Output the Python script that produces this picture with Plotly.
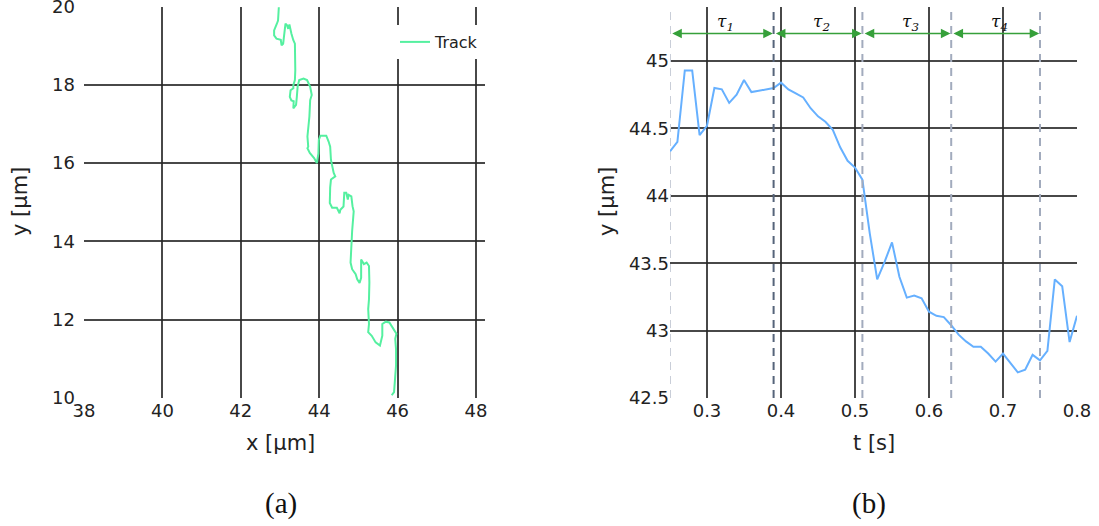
import plotly.graph_objects as go

# ---------------- data ----------------
track_x = [42.97, 42.95, 42.92, 42.85, 42.85, 42.91, 43.02, 43.04, 43.08, 43.14, 43.18, 43.21, 43.24,
           43.27, 43.29, 43.34, 43.38, 43.39, 43.38, 43.34, 43.34, 43.27, 43.25, 43.29, 43.35, 43.34,
           43.41, 43.43, 43.45, 43.49, 43.60, 43.69, 43.77, 43.81, 43.77, 43.75, 43.70, 43.72, 43.70,
           43.76, 43.87, 43.94, 43.98, 43.99, 44.03, 44.11, 44.18, 44.24, 44.28, 44.30, 44.37, 44.41,
           44.30, 44.28, 44.27, 44.33, 44.45, 44.52, 44.54, 44.62, 44.64, 44.69, 44.73, 44.75, 44.82,
           44.85, 44.88, 44.84, 44.82, 44.80, 44.84, 44.93, 44.97, 45.03, 45.07, 45.07, 45.14, 45.21,
           45.27, 45.28, 45.27, 45.25, 45.27, 45.25, 45.34, 45.44, 45.55, 45.61, 45.61, 45.70, 45.79,
           45.92, 45.97, 45.94, 45.96, 45.96, 45.94, 45.91, 45.85]
track_y = [19.98, 19.64, 19.56, 19.39, 19.26, 19.18, 19.15, 19.01, 19.05, 19.56, 19.52, 19.43, 19.54,
           19.35, 19.31, 19.14, 19.05, 18.37, 18.12, 17.99, 17.91, 17.86, 17.69, 17.60, 17.58, 17.40,
           17.49, 17.70, 17.96, 18.12, 18.16, 18.12, 17.95, 17.74, 17.61, 17.19, 16.68, 16.42, 16.38,
           16.26, 16.13, 16.00, 16.25, 16.59, 16.70, 16.70, 16.70, 16.55, 16.42, 16.08, 15.75, 15.66,
           15.58, 15.38, 14.98, 14.86, 14.86, 14.72, 14.81, 14.89, 15.24, 15.24, 15.07, 15.19, 15.15,
           14.90, 14.77, 14.26, 13.97, 13.46, 13.29, 13.16, 13.03, 12.94, 13.07, 13.54, 13.42, 13.46,
           13.37, 12.95, 12.52, 12.27, 11.89, 11.68, 11.59, 11.42, 11.34, 11.59, 11.89, 11.95, 11.93,
           11.72, 11.64, 11.51, 11.25, 10.83, 10.41, 10.15, 10.07]

t_vals = [0.25, 0.26, 0.27, 0.28, 0.29, 0.30, 0.31, 0.32, 0.33, 0.34, 0.35, 0.36, 0.37, 0.38, 0.39,
          0.40, 0.41, 0.42, 0.43, 0.44, 0.45, 0.46, 0.47, 0.48, 0.49, 0.50, 0.51, 0.52, 0.53, 0.54,
          0.55, 0.56, 0.57, 0.58, 0.59, 0.60, 0.61, 0.62, 0.63, 0.64, 0.65, 0.66, 0.67, 0.68, 0.69,
          0.70, 0.71, 0.72, 0.73, 0.74, 0.75, 0.76, 0.77, 0.78, 0.79, 0.80]
y_vals = [44.33, 44.40, 44.93, 44.93, 44.45, 44.52, 44.80, 44.79, 44.69, 44.75, 44.86, 44.77, 44.78,
          44.79, 44.80, 44.84, 44.79, 44.76, 44.73, 44.65, 44.59, 44.55, 44.49, 44.36, 44.26, 44.21,
          44.12, 43.72, 43.38, 43.51, 43.655, 43.40, 43.245, 43.26, 43.24, 43.14, 43.11, 43.10, 43.04,
          42.97, 42.92, 42.88, 42.88, 42.83, 42.77, 42.83, 42.76, 42.69, 42.71, 42.82, 42.78, 42.85,
          43.38, 43.33, 42.915, 43.11]

seg_bounds = [0.25, 0.39, 0.51, 0.63, 0.75]
seg_colors = ["#c9ced8", "#56647a", "#a2abbd", "#a2abbd", "#a2abbd"]
tau_labels = ["τ<sub>1</sub>", "τ<sub>2</sub>", "τ<sub>3</sub>", "τ<sub>4</sub>"]
arrow_y = 45.205
tau_y = 45.29

x_ticks_a = [38, 40, 42, 44, 46, 48]
y_ticks_a = [10, 12, 14, 16, 18, 20]
t_ticks = [0.3, 0.4, 0.5, 0.6, 0.7, 0.8]
t_tick_text = ["0.3", "0.4", "0.5", "0.6", "0.7", "0.8"]
y_ticks_b = [42.5, 43, 43.5, 44, 44.5, 45]
y_tick_text_b = ["42.5", "43", "43.5", "44", "44.5", "45"]

# ---------------- figure ----------------
W, H = 1099, 526
fig = go.Figure()

fig.add_trace(go.Scatter(x=track_x, y=track_y, mode="lines", name="Track",
                         line=dict(color="#55f0a0", width=2), xaxis="x", yaxis="y"))
fig.add_trace(go.Scatter(x=t_vals, y=y_vals, mode="lines", name="y",
                         line=dict(color="#66b0ff", width=2), xaxis="x2", yaxis="y2",
                         showlegend=False))

grid = dict(showgrid=True, gridcolor="rgba(40,40,40,0.85)", gridwidth=1.5,
            zeroline=False, showline=False, ticks="", automargin=False,
            ticklabeloverflow="allow",
            tickfont=dict(family="DejaVu Sans", size=18, color="#222"))

ydom = [1 - 398 / H, 1 - 6.5 / H]
fig.update_layout(
    width=W, height=H,
    margin=dict(l=0, r=0, t=0, b=0, autoexpand=False),
    paper_bgcolor="white", plot_bgcolor="white",
    font=dict(family="DejaVu Sans", color="#222"),
    xaxis=dict(domain=[84 / W, 485 / W], range=[38, 38 + (485 - 84) / 39.2],
               tickvals=x_ticks_a, anchor="y", **grid),
    yaxis=dict(domain=ydom, range=[10, 20.0001], tickvals=y_ticks_a, anchor="x",
               ticklabelstandoff=8, **grid),
    xaxis2=dict(domain=[670 / W, 1077 / W], range=[0.25, 0.8], tickvals=t_ticks,
                ticktext=t_tick_text, anchor="y2", **grid),
    yaxis2=dict(domain=ydom, range=[42.5, 45.405], tickvals=y_ticks_b,
                ticktext=y_tick_text_b, anchor="x2", **grid),
    legend=dict(x=395 / W, y=1 - 25 / H, xanchor="left", yanchor="top",
                bgcolor="white", borderwidth=0,
                font=dict(family="DejaVu Sans", size=16, color="#222")),
)

# dashed segment boundaries
for b, c in zip(seg_bounds, seg_colors):
    fig.add_shape(type="line", xref="x2", yref="y2 domain", x0=b, x1=b, y0=0, y1=1,
                  line=dict(color=c, width=2, dash="8px,6px"))

# double arrows and tau labels
for i in range(len(seg_bounds) - 1):
    a, b = seg_bounds[i], seg_bounds[i + 1]
    fig.add_annotation(xref="x2", yref="y2", axref="x2", ayref="y2",
                       x=b - 0.001, y=arrow_y, ax=a + 0.001, ay=arrow_y, text="",
                       showarrow=True, arrowhead=2, startarrowhead=2, arrowside="end+start",
                       arrowsize=1.2, startarrowsize=1.2,
                       arrowwidth=1.6, arrowcolor="#36a03a")
    fig.add_annotation(xref="x2", yref="y2", x=(a + b) / 2 + 0.005, y=tau_y,
                       text="<i>" + tau_labels[i] + "</i>", showarrow=False,
                       xanchor="center", yanchor="middle",
                       font=dict(family="DejaVu Serif", size=17, color="#111"))

# axis titles
title_font = dict(family="DejaVu Sans", size=21, color="#222")
def add_text(x, y, text, font, angle=0):
    fig.add_annotation(xref="paper", yref="paper", x=x / W, y=1 - y / H, text=text,
                       showarrow=False, font=font, textangle=angle,
                       xanchor="center", yanchor="middle")

add_text((84 + 476) / 2, 443, "x [μm]", title_font)
add_text(20, 202, "y [μm]", title_font, -90)
add_text(607, 202, "y [μm]", title_font, -90)
add_text((670 + 1077) / 2, 443, "t [s]", title_font)

# panel labels
panel_font = dict(family="Liberation Serif", size=29, color="#111")
add_text(281, 503, "(a)", panel_font)
add_text(869, 503, "(b)", panel_font)

fig.write_html("out.html", config={"displayModeBar": False},
               post_script="document.body.style.margin='0px';")
